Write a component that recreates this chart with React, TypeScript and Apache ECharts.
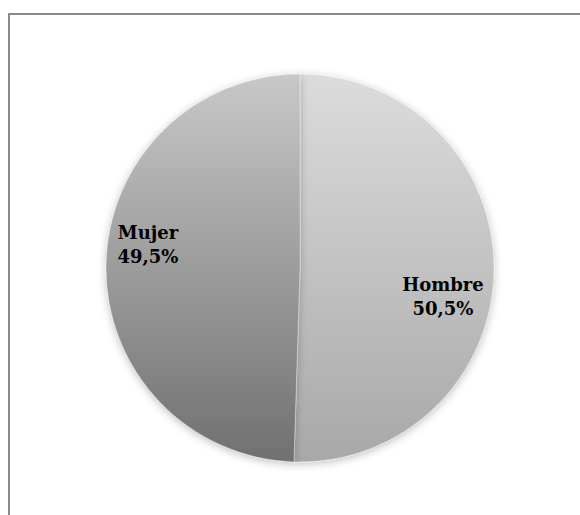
import React, { useEffect, useRef } from "react";
import * as echarts from "echarts";

const categories = ["Hombre", "Mujer"];
const values = [50.5, 49.5];

const gradients = [
  ["#dcdcdc", "#a8a8a8"],
  ["#c8c8c8", "#707070"],
];

const labelCenters = [
  [443, 296],
  [148, 244],
];

export default function App() {
  const ref = useRef<HTMLDivElement>(null);
  useEffect(() => {
    if (!ref.current) return;
    const chart = echarts.init(ref.current, null, { renderer: "svg" });
    const data = categories.map((name, i) => ({
      name,
      value: values[i],
      itemStyle: {
        color: new echarts.graphic.LinearGradient(0, 0, 0, 1, [
          { offset: 0, color: gradients[i][0] },
          { offset: 1, color: gradients[i][1] },
        ]),
      },
    }));
    chart.setOption({
      animation: false,
      backgroundColor: "#ffffff",
      graphic: [
        {
          type: "rect",
          shape: { x: 9, y: 14, width: 700, height: 700 },
          style: { fill: "none", stroke: "#8a8a8a", lineWidth: 2 },
          silent: true,
        },
      ],
      series: [
        {
          type: "pie",
          center: [300, 268],
          radius: [0, 194],
          startAngle: 90,
          clockwise: true,
          data,
          itemStyle: {
            borderWidth: 0.6,
            borderColor: "rgba(255,255,255,0.5)",
            shadowBlur: 8,
            shadowColor: "rgba(0,0,0,0.25)",
            shadowOffsetY: 2,
          },
          label: {
            show: true,
            position: "inside",
            formatter: (p: any) =>
              p.name + "\n" + p.value.toFixed(1).replace(".", ",") + "%",
            fontFamily: "DejaVu Serif",
            fontWeight: "bold",
            fontSize: 18,
            lineHeight: 24,
            color: "#000000",
            align: "center",
          },
          labelLine: { show: false },
          labelLayout: (params: any) => ({
            x: labelCenters[params.dataIndex][0],
            y: labelCenters[params.dataIndex][1],
            align: "center",
            verticalAlign: "middle",
          }),
        },
      ],
    });
    return () => chart.dispose();
  }, []);
  return (
    <div
      ref={ref}
      style={{ position: "absolute", left: 0, top: 0, width: 580, height: 515 }}
    />
  );
}
